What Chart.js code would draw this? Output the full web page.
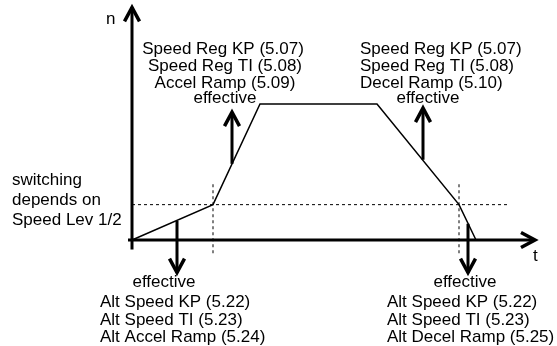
<!DOCTYPE html>
<html lang="en">
<head>
<meta charset="UTF-8" />
<title>Speed profile switching</title>
<script src="https://cdn.jsdelivr.net/npm/chart.js"></script>
<style>
  body { margin: 0; background: #fff; }
  #wrap { width: 557px; height: 346px; }
</style>
</head>
<body>
<div id="wrap"><canvas id="chart" width="557" height="346"></canvas></div>
<script>
// speed profile: time (arbitrary units) and speed n (% of max)
const profileT = [0, 81, 128, 245, 327, 344];
const profileN = [0, 26, 100, 100, 26, 0];
// switching level (Speed Lev 1/2) and the two switching instants
const switchLevel = 26;
const switchT = [81, 327];
// "effective" arrows: time, start speed, end speed
const arrowT = [100, 291, 45, 336];
const arrowFrom = [56, 59, 14, 12];
const arrowTo = [94, 97, -24, -24];

const FONT = "17px 'Liberation Sans', Arial, Helvetica, sans-serif";

const labels = [
  // upper left, centred
  { text: "Speed Reg KP (5.07)", x: 223, y: 54, align: "center" },
  { text: "Speed Reg TI (5.08)", x: 225, y: 71, align: "center" },
  { text: "Accel Ramp (5.09)", x: 225, y: 88, align: "center" },
  { text: "effective", x: 225, y: 103, align: "center" },
  // upper right
  { text: "Speed Reg KP (5.07)", x: 360, y: 54, align: "left" },
  { text: "Speed Reg TI (5.08)", x: 360, y: 71, align: "left" },
  { text: "Decel Ramp (5.10)", x: 360, y: 88, align: "left" },
  { text: "effective", x: 428, y: 103, align: "center" },
  // left note
  { text: "switching", x: 12, y: 185, align: "left" },
  { text: "depends on", x: 12, y: 205, align: "left" },
  { text: "Speed Lev 1/2", x: 12, y: 225, align: "left" },
  // lower left
  { text: "effective", x: 164, y: 287, align: "center" },
  { text: "Alt Speed KP (5.22)", x: 100, y: 307, align: "left" },
  { text: "Alt Speed TI (5.23)", x: 100, y: 325, align: "left" },
  { text: "Alt Accel Ramp (5.24)", x: 100, y: 342, align: "left" },
  // lower right
  { text: "effective", x: 465, y: 287, align: "center" },
  { text: "Alt Speed KP (5.22)", x: 387, y: 307, align: "left" },
  { text: "Alt Speed TI (5.23)", x: 387, y: 325, align: "left" },
  { text: "Alt Decel Ramp (5.25)", x: 387, y: 342, align: "left" },
  // axis names
  { text: "n", x: 106, y: 24, align: "left" },
  { text: "t", x: 533, y: 261, align: "left" },
];

const pts = (ts, ns) => ts.map((t, i) => ({ x: t, y: ns[i] }));

const datasets = [];

// axes
datasets.push({ data: pts([0, 0], [-7, 171]), borderWidth: 3, head: true });
datasets.push({ data: pts([-4, 403], [0, 0]), borderWidth: 3, head: true });

// speed profile
datasets.push({ data: pts(profileT, profileN), borderWidth: 1.5 });

// switching level + switching instants
datasets.push({
  data: pts([0, 377], [switchLevel, switchLevel]),
  borderWidth: 1,
  borderDash: [3, 3],
});
switchT.forEach((t) => {
  datasets.push({
    data: pts([t, t], [41, -10]),
    borderWidth: 1,
    borderDash: [3, 3],
  });
});

// effective arrows
arrowT.forEach((t, i) => {
  datasets.push({
    data: pts([t, t], [arrowFrom[i], arrowTo[i]]),
    borderWidth: 3,
    head: true,
  });
});

datasets.forEach((d) => {
  d.showLine = true;
  d.borderColor = "#000";
  d.pointRadius = 0;
  d.tension = 0;
});

const arrowHeads = {
  id: "arrowHeads",
  afterDatasetsDraw(chart) {
    const ctx = chart.ctx;
    const xs = chart.scales.x;
    const ys = chart.scales.y;
    ctx.save();
    ctx.strokeStyle = "#000";
    ctx.lineWidth = 3.5;
    ctx.lineJoin = "miter";
    chart.data.datasets.forEach((d) => {
      if (!d.head) return;
      const a = d.data[d.data.length - 2];
      const b = d.data[d.data.length - 1];
      const x0 = xs.getPixelForValue(a.x), y0 = ys.getPixelForValue(a.y);
      const x1 = xs.getPixelForValue(b.x), y1 = ys.getPixelForValue(b.y);
      const ang = Math.atan2(y1 - y0, x1 - x0);
      const len = 14, half = 7.5;
      const bx = x1 - len * Math.cos(ang), by = y1 - len * Math.sin(ang);
      const px = -Math.sin(ang) * half, py = Math.cos(ang) * half;
      ctx.beginPath();
      ctx.moveTo(bx + px, by + py);
      ctx.lineTo(x1, y1);
      ctx.lineTo(bx - px, by - py);
      ctx.stroke();
    });
    ctx.restore();
  },
  afterDraw(chart) {
    const ctx = chart.ctx;
    ctx.save();
    ctx.fillStyle = "#000";
    ctx.font = FONT;
    ctx.textBaseline = "alphabetic";
    labels.forEach((l) => {
      ctx.textAlign = l.align;
      ctx.fillText(l.text, l.x, l.y);
    });
    ctx.restore();
  },
};

new Chart(document.getElementById("chart"), {
  type: "scatter",
  data: { datasets: datasets },
  options: {
    responsive: false,
    animation: false,
    layout: { padding: 0 },
    plugins: { legend: { display: false }, tooltip: { enabled: false } },
    scales: {
      x: { type: "linear", display: false, min: -132, max: 425 },
      y: { type: "linear", display: false, min: -77.94, max: 176.47 },
    },
  },
  plugins: [arrowHeads],
});
</script>
</body>
</html>
